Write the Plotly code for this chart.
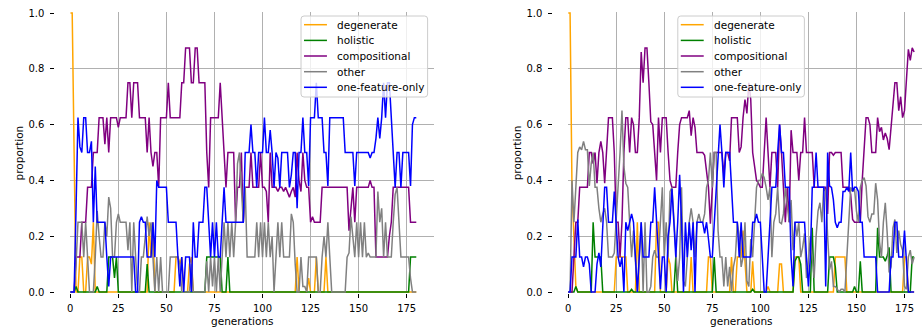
import plotly.graph_objects as go

W, H = 922, 331
MT, MB = 12, 38
gens = list(range(181))
series_names = ["degenerate", "holistic", "compositional", "other", "one-feature-only"]
series_colors = ["#FFA500", "#008000", "#800080", "#808080", "#0000FF"]

# ---------------- left panel ----------------
left_degenerate = [
    1, 1, .5, 0, 0, .125, .125, 0, 0, .125,
    .125, .1, .25, 0, 0, 0, 0, 0, 0, 0,
    0, 0, 0, 0, 0, 0, 0, 0, 0, 0,
    0, 0, 0, 0, 0, 0, 0, 0, 0, 0,
    0, .25, .125, .25, 0, 0, 0, 0, 0, 0,
    0, 0, 0, 0, 0, .125, .125, .1, .125, 0,
    0, 0, .1, .125, 0, 0, 0, 0, 0, 0,
    0, 0, 0, 0, 0, 0, 0, 0, 0, 0,
    0, 0, 0, 0, 0, 0, 0, 0, 0, 0,
    0, 0, 0, 0, 0, 0, 0, 0, 0, 0,
    0, 0, 0, 0, 0, 0, 0, 0, 0, 0,
    0, 0, 0, 0, 0, 0, 0, 0, .125, 0,
    0, 0, 0, 0, .05, 0, 0, 0, .125, 0,
    0, 0, 0, .125, 0, 0, 0, 0, 0, 0,
    0, 0, 0, 0, 0, 0, 0, 0, 0, 0,
    0, 0, 0, 0, 0, 0, 0, 0, 0, 0,
    0, 0, 0, 0, 0, 0, 0, 0, 0, 0,
    0, 0, 0, 0, 0, 0, 0, 0, 0, 0,
    0]
left_holistic = [
    0, 0, 0, .02, 0, 0, 0, 0, 0, 0,
    0, 0, 0, 0, .02, 0, 0, 0, 0, 0,
    .125, .125, .125, .05, .125, 0, 0, 0, 0, 0,
    0, 0, 0, 0, 0, 0, 0, 0, 0, 0,
    .1, 0, 0, 0, 0, 0, 0, 0, 0, 0,
    0, 0, 0, 0, 0, 0, 0, 0, 0, 0,
    0, 0, 0, 0, 0, 0, 0, 0, 0, 0,
    0, .125, .125, .125, .125, .125, .125, .125, .125, 0,
    0, 0, .125, 0, 0, 0, 0, 0, 0, 0,
    0, 0, 0, 0, 0, 0, 0, 0, 0, 0,
    0, 0, 0, 0, 0, 0, 0, 0, 0, 0,
    0, 0, 0, 0, 0, 0, 0, 0, 0, 0,
    0, 0, 0, 0, 0, 0, 0, 0, 0, 0,
    0, 0, 0, 0, 0, 0, 0, 0, 0, 0,
    0, 0, 0, 0, 0, 0, 0, 0, 0, 0,
    0, 0, 0, 0, 0, 0, 0, 0, 0, 0,
    0, 0, 0, 0, 0, 0, 0, 0, 0, 0,
    0, 0, 0, 0, 0, 0, 0, .125, .125, .125,
    .125]
left_compositional = [
    0, 0, 0, .125, .125, .125, .25, .25, .25, .375,
    .375, .375, .5, .5, .5, .625, .625, .625, .53, .625,
    .5, .625, .625, .625, .625, .59, .625, .625, .625, .625,
    .75, .75, .625, .75, .75, .75, .625, .625, .625, .625,
    .5, .625, .5, .45, .5, .5, .375, .625, .625, .625,
    .625, .75, .625, .625, .625, .625, .625, .625, .75, .75,
    .875, .875, .875, .75, .75, .875, .875, .75, .75, .75,
    .75, .5, .375, .625, .625, .625, .625, .625, .75, .625,
    .5, .375, .5, .5, .5, .5, .25, .375, .375, .5,
    .25, .375, .375, .375, .5, .375, .375, .375, .375, .5,
    .375, .375, .36, .25, .5, .375, .375, .375, .36, .375,
    .375, .36, .375, .36, .34, .36, .375, .34, .5, .4,
    .36, .5, .4, .375, .375, .25, .27, .25, .25, .25,
    .25, .375, .375, .375, .375, .375, .375, .375, .375, .375,
    .375, .375, .375, .375, .375, .22, .3, .375, .25, .375,
    .375, .375, .375, .375, .375, .375, .4, .375, .375, .125,
    .125, .125, .125, .125, .125, .125, .2, .25, .375, .375,
    .375, .375, .375, .375, .375, .375, .375, .25, .25, .25,
    .25]
left_other = [
    0, 0, 0, .1, .25, .25, .25, .125, .25, .125,
    0, 0, 0, .125, .29, .2, .125, .125, .25, .2,
    .34, .3, .125, .125, .25, .28, .25, .25, .25, .25,
    .15, .25, 0, .25, .125, 0, 0, .125, .125, .2,
    .27, .2, .25, .125, 0, .125, 0, .125, 0, 0,
    0, 0, .125, .125, .125, .125, .125, .1, 0, 0,
    0, 0, 0, .1, 0, 0, 0, 0, 0, 0,
    0, .11, 0, .125, .02, .125, 0, .125, 0, .125,
    .25, .125, .25, .125, .25, .125, .25, .46, .5, .375,
    .25, .375, .125, .125, .125, .125, .125, .25, .125, .25,
    .125, .25, .125, .25, .125, .2, 0, .125, .25, .125,
    .25, .125, .125, .125, .125, .28, .25, .1, 0, 0,
    .125, .02, .02, 0, .125, .125, .125, .125, .125, 0,
    0, .125, .2, .125, .25, .125, 0, 0, 0, 0,
    0, 0, 0, 0, .125, .14, .27, .2, .125, .25,
    .125, .25, .125, .25, .125, .14, .125, .125, .125, .125,
    .36, .25, .3, .125, .25, .125, .125, .125, .25, .35,
    .375, .25, .125, .125, .125, .125, .125, .05, 0, 0,
    0]
left_one_feature = [
    0, 0, 0, .3, .625, .52, .5, .625, .625, .5,
    .5, .54, .25, .45, .25, .25, .25, .25, .25, .125,
    .02, .125, .125, .125, .125, .125, .125, .125, .125, .125,
    .125, .125, .125, .125, 0, 0, .25, .27, .25, .25,
    .125, .125, .125, .25, .125, .4, .375, .375, .375, .375,
    .375, .25, .25, .25, .25, .25, .125, .02, .125, 0,
    .125, .125, .125, 0, .25, .125, .125, .25, .25, .25,
    .375, .375, .25, .125, .25, .125, .25, .125, .125, .25,
    .375, .25, .25, .25, .25, .25, .25, .25, .25, .25,
    .25, .5, .5, .5, .6, .5, .5, .375, .5, .5,
    .5, .625, .5, .5, .58, .5, .375, .5, .48, .375,
    .5, .5, .5, .5, .375, .42, .5, .5, .3, .5,
    .5, .625, .5, .5, .38, .625, .625, .625, .75, .625,
    .625, .625, .5, .5, .38, .625, .625, .625, .625, .625,
    .625, .625, .625, .5, .5, .5, .5, .5, .38, .5,
    .5, .5, .5, .5, .5, .5, .48, .5, .5, .55,
    .625, .55, .625, .75, .625, .75, .75, .625, .5, .375,
    .5, .5, .375, .5, .5, .5, .5, .38, .6, .625,
    .625]

# ---------------- right panel ----------------
right_degenerate = [
    1, 1, .375, .2, .02, 0, 0, 0, 0, 0,
    0, 0, 0, 0, 0, 0, 0, 0, 0, 0,
    0, 0, 0, 0, 0, .125, .125, .125, .125, .125,
    .125, 0, 0, 0, 0, 0, .25, 0, 0, 0,
    0, 0, 0, 0, 0, 0, .25, .25, 0, 0,
    0, 0, .125, .1, 0, 0, 0, 0, 0, 0,
    0, 0, 0, 0, .125, 0, 0, 0, 0, 0,
    0, 0, 0, .125, .125, 0, 0, 0, 0, 0,
    0, 0, 0, 0, 0, .125, 0, 0, .125, .125,
    .125, .22, .125, 0, 0, 0, .11, 0, 0, 0,
    0, 0, 0, 0, .02, 0, 0, 0, 0, 0,
    .1, .1, 0, 0, 0, 0, 0, 0, .125, .125,
    .125, 0, 0, 0, 0, 0, 0, 0, 0, 0,
    0, 0, 0, 0, 0, 0, 0, 0, 0, .125,
    .125, .125, .125, .125, .125, 0, 0, 0, 0, 0,
    0, 0, 0, 0, 0, 0, 0, 0, 0, 0,
    0, 0, 0, 0, 0, 0, 0, 0, 0, 0,
    0, 0, 0, 0, 0, .125, .125, 0, 0, 0,
    0]
right_holistic = [
    0, 0, 0, 0, .02, 0, 0, 0, 0, 0,
    0, 0, 0, .25, .125, .125, .125, .125, 0, 0,
    0, 0, 0, 0, 0, 0, 0, 0, 0, 0,
    0, 0, 0, .01, 0, 0, 0, 0, 0, 0,
    0, 0, 0, 0, 0, 0, 0, 0, 0, 0,
    0, 0, 0, 0, 0, 0, .125, 0, 0, 0,
    0, 0, 0, 0, 0, 0, 0, 0, 0, 0,
    0, 0, 0, 0, 0, 0, .125, 0, 0, 0,
    0, 0, 0, 0, 0, 0, 0, 0, 0, 0,
    0, 0, 0, 0, 0, 0, .01, 0, 0, 0,
    0, 0, 0, 0, 0, 0, 0, 0, 0, 0,
    0, 0, 0, 0, 0, 0, 0, 0, .11, .125,
    .125, .1, 0, 0, 0, 0, 0, .23, 0, 0,
    0, 0, 0, 0, 0, 0, .125, .125, .125, .09,
    0, 0, 0, 0, 0, 0, 0, 0, 0, .02,
    0, 0, .11, 0, 0, 0, 0, 0, 0, 0,
    0, .23, .125, .125, .125, .11, .13, .16, 0, 0,
    0, 0, 0, 0, 0, 0, 0, 0, 0, .125,
    .125]
right_compositional = [
    0, 0, 0, .125, .25, .25, .375, .375, .375, .375,
    .375, .5, .5, .46, .5, .39, .5, .54, .5, .39,
    .5, .625, .625, .625, .5, .25, .25, .125, .25, .5,
    .625, .625, .5, .625, .6, .5, .5, .625, .86, .75,
    .875, .875, .75, .61, .6, .5, .4, .625, .5, .625,
    .625, .625, .5, .4, .375, .375, .375, .5, .6, .625,
    .625, .625, .625, .65, .56, .625, .59, .5, .5, .5,
    .5, .49, .44, .375, .245, .375, .5, .5, .5, .5,
    .5, .42, .5, .5, .47, .625, .625, .625, .625, .5,
    .52, .625, .69, .64, .75, .69, .5, .45, .4, .39,
    .375, .375, .5, .625, .5, .375, .5, .5, .5, .375,
    .6, .5, .375, .25, .375, .25, .58, .5, .5, .5,
    .4, .5, .5, .625, .5, .5, .5, .5, .375, .375,
    .375, .375, .375, .375, .375, .28, .5, .5, .49, .5,
    .5, .5, .5, .375, .375, .375, .375, .35, .26, .25,
    .25, .25, .25, .4, .5, .625, .625, .6, .5, .5,
    .5, .625, .575, .59, .545, .57, .55, .51, .6, .68,
    .75, .75, .65, .7, .625, .65, .75, .87, .83, .875,
    .86]
right_other = [
    0, 0, .4, .25, .375, .5, .52, .51, .54, .51,
    .51, .38, .46, .5, .375, .375, .3, .25, .28, .3,
    .25, .125, .125, .125, .14, .25, .375, .5, .65, .45,
    .39, .375, .25, .125, .22, .125, 0, .125, .25, 0,
    .25, 0, 0, .02, .125, .15, .125, .125, .25, .375,
    .125, .25, .125, .36, .375, .25, .125, .04, .125, .375,
    .04, .02, .125, .25, .3, .25, .125, .25, .28, .25,
    .25, .28, .375, .4, .5, .375, .5, .5, .22, .125,
    .125, .02, .125, .02, .09, 0, .09, .125, .25, .2,
    .09, .125, .25, .04, .02, .19, .125, .25, .375, .4,
    .4, .425, .41, .375, .33, .375, .125, .25, .28, .375,
    .25, .245, .28, .375, .3, .25, .33, .15, .25, .2,
    .25, .125, .16, .21, .05, .11, .2, .11, .05, .2,
    .29, .32, .25, .375, .36, .2, .08, .11, .02, .02,
    .01, 0, .01, .01, 0, .125, .27, .375, .36, .37,
    .29, .25, .375, .4, .41, .38, .27, .25, .28, .28,
    .39, .33, .18, .125, .25, .32, .21, .07, .09, .23,
    .26, .14, .22, .17, .15, .02, .01, .125, .15, .1,
    .125]
right_one_feature = [
    0, 0, .125, .125, .125, .26, .125, .125, .09, .125,
    .125, .1, 0, 0, 0, .1, .14, .09, .25, .375,
    .375, .25, .25, .25, .36, .25, .125, .09, .125, 0,
    .25, .22, .25, .28, .25, .125, 0, .125, .25, .125,
    .125, .125, .125, .25, .25, .375, .25, .125, .01, .125,
    .125, 0, .2, .25, .37, .25, .125, .25, .42, .25,
    0, .25, .125, .25, .15, .25, 0, .25, .25, .25,
    .25, .21, .25, .19, .125, .125, .25, .375, .5, .6,
    .5, .375, .5, .5, .5, .375, .25, .25, .25, .125,
    .25, .125, .125, .125, .125, .125, .25, .25, .28, .25,
    .25, .125, 0, 0, .125, .25, .375, .375, .375, .5,
    .6, .5, .5, .375, .375, .375, .125, .02, .25, .25,
    .25, .25, .25, .25, .125, .02, .125, .375, .375, .5,
    .375, .375, .375, .375, .02, .5, .38, .375, .33, .25,
    .23, .25, .25, .36, .36, .375, .36, .5, .36, .375,
    .375, .36, .25, .25, .125, .125, .125, .125, .125, .125,
    .125, 0, 0, 0, 0, 0, 0, 0, .125, .125,
    .25, .25, .125, .125, .125, .22, .125, 0, 0, 0,
    0]

left_series = [left_degenerate, left_holistic, left_compositional, left_other, left_one_feature]
right_series = [right_degenerate, right_holistic, right_compositional, right_other, right_one_feature]

xticks = [0, 25, 50, 75, 100, 125, 150, 175]
yticks = [0.0, 0.2, 0.4, 0.6, 0.8, 1.0]

FONT = "DejaVu Sans"
GRID = "#b0b0b0"

fig = go.Figure()
for vals, name, col in zip(left_series, series_names, series_colors):
    fig.add_trace(go.Scatter(x=gens, y=vals, mode="lines", name=name,
                             line=dict(color=col, width=1.5), showlegend=False,
                             xaxis="x", yaxis="y"))
for vals, name, col in zip(right_series, series_names, series_colors):
    fig.add_trace(go.Scatter(x=gens, y=vals, mode="lines", name=name,
                             line=dict(color=col, width=1.5), showlegend=False,
                             xaxis="x2", yaxis="y2"))


def px_x(p):
    return p / W


def px_y(p):
    return (H - MB - p) / (H - MT - MB)


common_x = dict(tickvals=xticks, showgrid=True, gridcolor=GRID, gridwidth=0.8,
                ticks="outside", ticklen=3.5, tickwidth=0.8, tickcolor="black",
                showline=False, zeroline=False, ticklabelstandoff=2,
                tickfont=dict(family=FONT, size=10, color="black"))
common_y = dict(tickvals=yticks, tickformat=".1f", range=[-0.0036, 1.0036],
                showgrid=True, gridcolor=GRID, gridwidth=0.8,
                ticks="outside", ticklen=3.5, tickwidth=0.8, tickcolor="black",
                showline=False, zeroline=False, anchor="free", ticklabelstandoff=4,
                tickfont=dict(family=FONT, size=10, color="black"))

fig.update_layout(
    width=W, height=H,
    margin=dict(l=0, r=0, t=MT, b=MB, pad=0),
    paper_bgcolor="white", plot_bgcolor="white",
    font=dict(family=FONT, size=10, color="black"),
    xaxis=dict(domain=[px_x(67.5), px_x(432)], range=[0, 189], anchor="y", **common_x),
    yaxis=dict(position=px_x(51), **common_y),
    xaxis2=dict(domain=[px_x(567), 1.0], range=[0, 184.1], anchor="y2", **common_x),
    yaxis2=dict(position=px_x(550.7), **common_y),
    showlegend=False,
)

annotations = []
shapes = []
for cx in (240.5, 740.5):
    annotations.append(dict(text="generations", x=px_x(cx), y=px_y(321), xref="paper", yref="paper",
                            showarrow=False, xanchor="center", yanchor="middle",
                            font=dict(family=FONT, size=10.5, color="black")))
for cx in (16, 515.5):
    annotations.append(dict(text="proportion", x=px_x(cx), y=px_y(152.5), xref="paper", yref="paper",
                            showarrow=False, xanchor="center", yanchor="middle", textangle=-90,
                            font=dict(family=FONT, size=10.5, color="black")))


def legend_box(x0, y0, x1, y1, r=3):
    X = lambda v: px_x(v)
    Y = lambda v: px_y(v)
    path = (f"M {X(x0 + r)} {Y(y0)} L {X(x1 - r)} {Y(y0)} "
            f"Q {X(x1)} {Y(y0)} {X(x1)} {Y(y0 + r)} L {X(x1)} {Y(y1 - r)} "
            f"Q {X(x1)} {Y(y1)} {X(x1 - r)} {Y(y1)} L {X(x0 + r)} {Y(y1)} "
            f"Q {X(x0)} {Y(y1)} {X(x0)} {Y(y1 - r)} L {X(x0)} {Y(y0 + r)} "
            f"Q {X(x0)} {Y(y0)} {X(x0 + r)} {Y(y0)} Z")
    return dict(type="path", path=path, xref="paper", yref="paper",
                fillcolor="rgba(255,255,255,0.8)", line=dict(color="#cccccc", width=1), layer="above")


legend_rows = [24.7, 40.4, 56.0, 71.7, 87.3]
for bx in (299, 677):
    shapes.append(legend_box(bx, 16, bx + 127, 97))
    for yy, name, col in zip(legend_rows, series_names, series_colors):
        shapes.append(dict(type="line", xref="paper", yref="paper",
                           x0=px_x(bx + 3), x1=px_x(bx + 26), y0=px_y(yy), y1=px_y(yy),
                           line=dict(color=col, width=1.5), layer="above"))
        annotations.append(dict(text=name, x=px_x(bx + 34), y=px_y(yy), xref="paper", yref="paper",
                                showarrow=False, xanchor="left", yanchor="middle",
                                font=dict(family=FONT, size=10.5, color="black")))

fig.update_layout(annotations=annotations, shapes=shapes)
fig.write_html("out.html")
